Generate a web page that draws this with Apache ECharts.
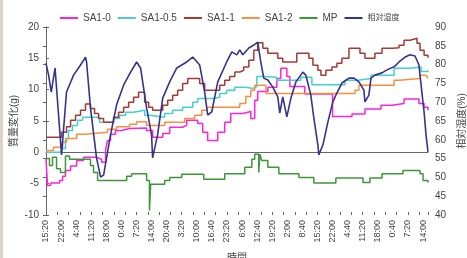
<!DOCTYPE html>
<html>
<head>
<meta charset="utf-8">
<script src="https://cdn.jsdelivr.net/npm/echarts@6/dist/echarts.min.js"></script>
<style>
html, body { margin: 0; padding: 0; background: #fff; }
#chart { width: 467px; height: 258px; }
</style>
</head>
<body>
<div id="chart"></div>
<script>
// x is counted in label steps: one step = 6h40m, step 0 = 15:20 on the first day
var tickLabels = ['15:20', '22:00', '4:40', '11:20', '18:00', '0:40', '7:20', '14:00', '20:40', '3:20',
    '10:00', '16:40', '23:20', '6:00', '12:40', '19:20', '2:00', '8:40', '15:20', '22:00',
    '4:40', '11:20', '18:00', '0:40', '7:20', '14:00'];

// mass change (g), [step, value]; values hold until the next point
var sa10 = [[0, -1.0], [0.1, -5.3], [0.3, -4.9], [0.9, -4.5], [1.1, -3.8], [1.29, -2.9], [1.63, -2.2],
    [2.03, -1.3], [2.49, -0.8], [3.35, -1.1], [3.69, -1.6], [3.95, 0.3], [4.08, 1.9], [4.28, 2.9],
    [4.61, 3.5], [5.01, 3.8], [5.54, 3.9], [6.67, 3.5], [7.07, 2.4], [7.74, 3.0], [8.2, 4.0],
    [9.06, 4.3], [9.33, 5.1], [10.06, 4.6], [10.39, 3.2], [10.72, 1.9], [11.39, 3.2], [11.85, 4.8],
    [12.25, 6.2], [13.05, 6.5], [13.58, 5.4], [13.84, 8.3], [14.04, 9.7], [14.71, 10.4], [15.31, 11.8],
    [15.57, 13.4], [15.97, 12.1], [16.17, 10.5], [17.16, 9.3], [19.0, 5.7], [20.29, 6.1], [21.15, 6.9],
    [22.21, 7.5], [22.95, 7.8], [23.74, 8.5], [24.73, 7.8], [25.07, 7.2], [25.33, 6.7]];

var sa105 = [[0, 0.0], [1.03, 0.6], [1.29, 2.2], [1.49, 3.5], [1.76, 4.3], [2.09, 5.1], [2.42, 5.6],
    [3.55, 4.8], [4.48, 5.4], [4.88, 5.9], [5.28, 6.4], [5.81, 6.7], [6.54, 5.9], [6.87, 5.6],
    [7.87, 6.2], [8.4, 6.7], [9.06, 7.2], [9.73, 8.0], [10.06, 8.6], [11.06, 8.8], [11.52, 9.4],
    [11.98, 9.9], [12.52, 10.4], [13.25, 10.2], [13.71, 10.5], [13.98, 12.1], [14.44, 12.0],
    [15.3, 11.5], [16.9, 12.0], [17.63, 10.8], [19.82, 11.5], [20.68, 11.8], [21.55, 12.3],
    [23.08, 13.4], [24.2, 13.6], [24.87, 12.9], [25.33, 13.1]];

var sa11 = [[0, 2.4], [1.03, 3.2], [1.36, 4.1], [1.63, 5.1], [1.96, 5.9], [2.29, 6.7], [2.62, 7.7],
    [2.95, 7.0], [3.22, 6.2], [3.49, 5.4], [3.82, 4.8], [4.48, 5.6], [4.81, 6.4], [5.15, 7.2],
    [5.48, 8.0], [5.81, 8.8], [6.14, 9.6], [6.54, 8.0], [6.81, 7.2], [7.07, 6.7], [7.74, 7.5],
    [8.07, 8.3], [8.4, 9.1], [8.73, 9.9], [9.06, 11.0], [9.4, 11.8], [10.19, 11.0], [10.52, 9.9],
    [11.52, 10.7], [11.85, 11.5], [12.18, 12.1], [12.52, 12.8], [12.85, 13.1], [13.11, 13.6],
    [13.45, 14.7], [13.78, 16.3], [14.04, 17.5], [14.38, 16.6], [14.71, 15.8], [15.37, 15.0],
    [15.7, 14.4], [16.63, 15.8], [17.43, 15.0], [17.7, 13.9], [18.03, 13.1], [18.23, 12.3],
    [18.56, 13.1], [18.96, 13.6], [19.29, 14.2], [19.62, 15.0], [20.09, 16.6], [20.82, 15.8],
    [21.15, 15.0], [21.81, 15.8], [22.28, 16.6], [22.95, 16.7], [23.41, 17.1], [23.74, 17.9],
    [24.14, 18.2], [24.6, 17.4], [24.8, 16.3], [25.07, 15.5], [25.33, 15.1]];

var sa12 = [[0, 0.3], [0.5, 0.8], [1.1, 1.6], [1.36, 2.2], [2.03, 2.9], [2.62, 3.2], [4.08, 3.7],
    [4.68, 4.1], [5.54, 4.5], [6.01, 4.9], [6.67, 4.3], [7.87, 4.8], [9.2, 5.4], [9.86, 5.9],
    [10.33, 6.7], [10.66, 7.2], [12.85, 7.8], [13.25, 8.9], [13.58, 9.9], [13.84, 10.7], [14.58, 9.4],
    [20.49, 9.9], [20.75, 10.7], [23.08, 11.5], [23.41, 11.8], [24.8, 12.3], [25.2, 12.0], [25.33, 11.8]];

var mp = [[0, -1.0], [0.23, -2.1], [0.43, -0.8], [0.7, -2.6], [0.96, -3.2], [1.29, -0.6], [1.56, -1.1],
    [2.95, -2.1], [3.15, -3.2], [3.42, -4.5], [5.35, -3.8], [5.68, -3.4], [6.67, -4.5], [6.86, -9.3],
    [6.94, -5.1], [7.87, -4.5], [8.2, -4.0], [9.0, -3.5], [10.46, -4.3], [11.85, -3.4], [13.18, -2.4],
    [13.65, -1.1], [13.84, -0.3], [14.11, -3.2], [14.18, -0.3], [14.31, -1.3], [14.71, -2.4],
    [15.44, -3.4], [16.77, -4.0], [17.76, -4.9], [19.22, -4.1], [21.02, -4.8], [21.48, -4.1],
    [22.28, -3.4], [23.67, -2.9], [24.8, -3.4], [25.0, -4.5], [25.33, -4.8]];

// relative humidity (%), right axis
var rh = [[0, 80.4], [0.17, 77.2], [0.35, 72.7], [0.6, 79.1], [1.03, 56.0], [1.36, 72.7], [1.83, 77.2],
    [2.29, 79.9], [2.62, 82.0], [2.69, 80.7], [2.95, 68.5], [3.35, 55.2], [3.62, 50.1], [3.82, 50.6],
    [4.28, 61.3], [4.68, 69.3], [5.15, 74.6], [5.61, 78.0], [6.01, 80.7], [6.27, 79.1], [6.67, 68.5],
    [7.0, 61.3], [7.07, 55.2], [7.4, 61.3], [7.74, 71.1], [8.2, 75.4], [8.67, 79.1], [9.33, 80.7],
    [9.73, 82.0], [10.19, 79.9], [10.52, 72.7], [10.72, 66.6], [10.99, 67.4], [11.39, 75.4],
    [11.98, 80.7], [12.32, 83.4], [12.65, 82.6], [12.85, 83.9], [13.05, 82.6], [13.45, 84.4],
    [13.78, 85.2], [14.04, 86.0], [14.24, 80.7], [14.44, 76.4], [14.71, 75.9], [15.04, 74.0],
    [15.37, 71.4], [15.5, 67.1], [15.7, 71.4], [15.97, 66.1], [16.24, 71.1], [16.57, 75.4],
    [17.03, 78.0], [17.23, 77.2], [17.56, 71.9], [17.76, 65.8], [18.03, 58.6], [18.09, 56.0],
    [18.36, 58.6], [18.69, 64.7], [19.02, 70.1], [19.22, 71.9], [19.62, 75.1], [20.09, 76.4],
    [20.42, 76.4], [20.75, 75.4], [21.08, 73.2], [21.15, 70.1], [21.41, 71.9], [21.55, 76.4],
    [21.81, 77.2], [22.28, 77.8], [22.61, 78.6], [23.08, 79.4], [23.41, 80.7], [23.81, 82.0],
    [24.14, 82.6], [24.47, 82.3], [24.73, 79.9], [24.87, 74.6], [25.07, 67.4], [25.2, 61.3], [25.33, 56.8]];

var names = ['SA1-0', 'SA1-0.5', 'SA1-1', 'SA1-2', 'MP', '相対湿度'];
var colors = ['#ff22dd', '#45cfcf', '#a33b34', '#f7913f', '#3d963a', '#34348f'];

var font = "'Liberation Sans', 'Noto Sans CJK JP', sans-serif";
var ink = '#444';
var xMax = 25.33;

function massLine(i, data) {
    return {
        name: names[i],
        type: 'line',
        step: 'end',
        data: data,
        symbol: 'none',
        lineStyle: { color: colors[i], width: 1.5 },
        itemStyle: { color: colors[i] }
    };
}

var chart = echarts.init(document.getElementById('chart'));
chart.setOption({
    backgroundColor: '#fff',
    animation: false,
    textStyle: { fontFamily: font },
    // scan edge on the left of the original figure
    graphic: [{
        type: 'rect',
        left: 0,
        top: 0,
        shape: { width: 3, height: 258 },
        style: { fill: '#ddd2c6' }
    }],
    legend: {
        left: 55,
        top: 8,
        itemWidth: 18,
        itemHeight: 2,
        itemGap: 7,
        icon: 'rect',
        data: names,
        textStyle: {
            color: ink, fontSize: 10, fontFamily: font,
            rich: { j: { fontSize: 8, color: ink, fontFamily: font } }
        },
        formatter: function (name) {
            return name === '相対湿度' ? '{j|' + name + '}' : name;
        }
    },
    grid: { left: 46, right: 39, top: 27, bottom: 43, outerBoundsMode: 'none' },
    xAxis: [{
        type: 'value',
        min: 0,
        max: xMax,
        interval: 1,
        name: '時間',
        nameLocation: 'middle',
        nameGap: 38,
        nameTextStyle: { color: ink, fontSize: 10 },
        axisLine: { lineStyle: { color: '#666' } },
        axisTick: { show: false },
        splitLine: { show: false },
        axisLabel: {
            rotate: 90,
            fontSize: 9,
            color: ink,
            margin: 5,
            showMaxLabel: false,
            formatter: function (v) {
                var k = Math.round(v);
                return Math.abs(v - k) < 1e-6 ? tickLabels[k] : '';
            }
        }
    }, {
        type: 'value',
        min: 0,
        max: xMax,
        interval: 0.75,
        position: 'bottom',
        axisLine: { show: false },
        axisTick: { show: true, inside: true, length: 3, lineStyle: { color: '#666' } },
        axisLabel: { show: false },
        splitLine: { show: false }
    }],
    yAxis: [{
        type: 'value',
        min: -10,
        max: 20,
        interval: 5,
        name: '質量変化(g)',
        nameLocation: 'middle',
        nameRotate: 90,
        nameGap: 27,
        nameMoveOverlap: false,
        nameTextStyle: { color: ink, fontSize: 10 },
        axisLine: { show: true, lineStyle: { color: '#666' } },
        axisTick: { show: true, inside: true, length: 3, lineStyle: { color: '#666' } },
        splitLine: { show: false },
        axisLabel: { fontSize: 10, color: ink, margin: 7 }
    }, {
        type: 'value',
        min: 40,
        max: 90,
        interval: 5,
        name: '相対湿度(%)',
        nameLocation: 'middle',
        nameRotate: 90,
        nameGap: 23,
        nameTextStyle: { color: ink, fontSize: 10 },
        axisLine: { show: true, lineStyle: { color: '#666' } },
        axisTick: { show: true, inside: true, length: 3, lineStyle: { color: '#666' } },
        splitLine: { show: false },
        axisLabel: { fontSize: 10, color: ink, margin: 7 }
    }],
    series: [
        massLine(0, sa10),
        massLine(1, sa105),
        massLine(2, sa11),
        massLine(3, sa12),
        massLine(4, mp),
        {
            name: names[5],
            type: 'line',
            yAxisIndex: 1,
            data: rh,
            symbol: 'none',
            lineStyle: { color: colors[5], width: 1.6 },
            itemStyle: { color: colors[5] }
        }
    ]
});
</script>
</body>
</html>
